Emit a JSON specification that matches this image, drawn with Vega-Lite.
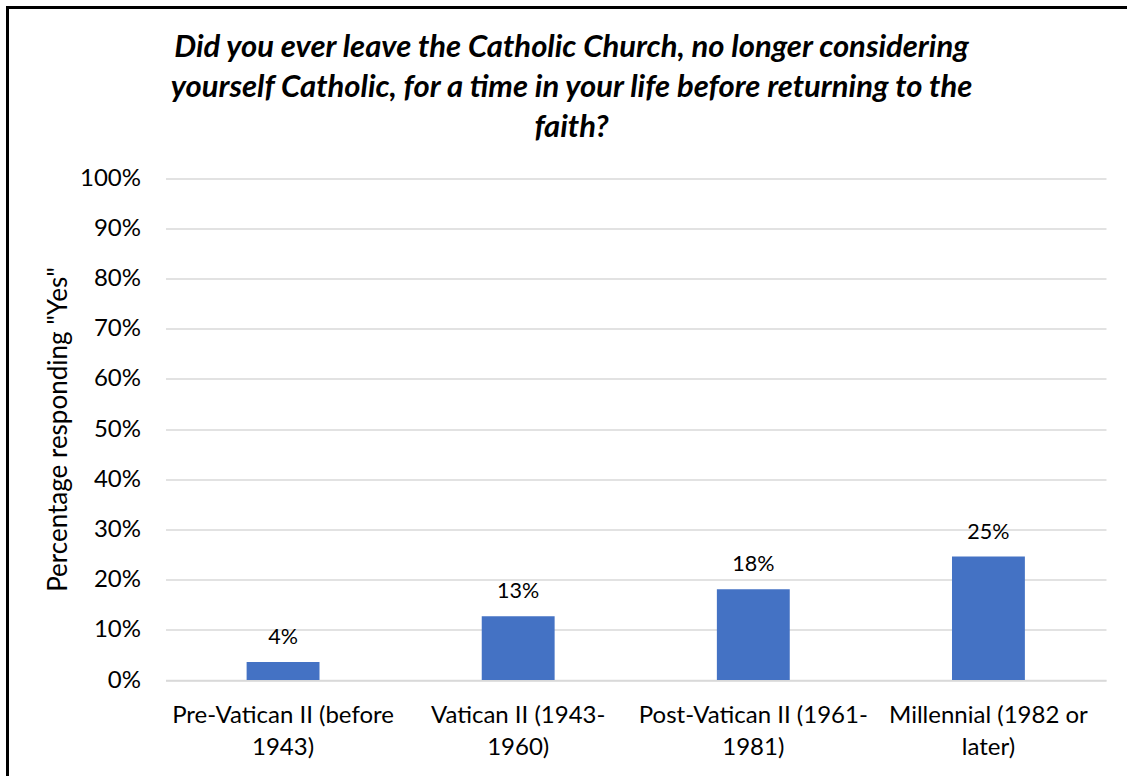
{
  "$schema": "https://vega.github.io/schema/vega-lite/v6.json",
  "autosize": "none",
  "padding": {"left": 7.5, "top": 7.5, "right": 0, "bottom": 0},
  "width": 1140,
  "height": 790,
  "background": "white",
  "view": {"stroke": "#000000", "strokeWidth": 3, "fill": "white"},
  "title": {
    "text": ["Did you ever leave the Catholic Church, no longer considering", "yourself Catholic, for a time in your life before returning to the", "faith?"],
    "font": "Lato",
    "fontSize": 31,
    "fontStyle": "italic",
    "fontWeight": "bold",
    "color": "#000000",
    "anchor": "middle",
    "frame": "group",
    "orient": "top",
    "offset": -136,
    "lineHeight": 40,
    "dx": -6
  },
  "data": {
    "values": [
      {"cohort": "Pre-Vatican II (before 1943)", "pct": 0.036},
      {"cohort": "Vatican II (1943-1960)", "pct": 0.127},
      {"cohort": "Post-Vatican II (1961-1981)", "pct": 0.181},
      {"cohort": "Millennial (1982 or later)", "pct": 0.246}
    ]
  },
  "encoding": {
    "x": {
      "field": "cohort",
      "type": "nominal",
      "sort": null,
      "scale": {"range": [158, 1098.5], "paddingInner": 0.69, "paddingOuter": 0.345},
      "axis": {
        "title": null,
        "labelAngle": 0,
        "labelFont": "Lato",
        "labelFontSize": 24,
        "labelColor": "#000000",
        "labelPadding": 23,
        "labelLineHeight": 32,
        "labelLimit": 0,
        "ticks": false,
        "domain": true,
        "domainColor": "#D9D9D9",
        "domainWidth": 1.5,
        "grid": false,
        "offset": -117.5,
        "labelExpr": "datum.label == 'Pre-Vatican II (before 1943)' ? ['Pre-Vatican II (before', '1943)'] : datum.label == 'Vatican II (1943-1960)' ? ['Vatican II (1943-', '1960)'] : datum.label == 'Post-Vatican II (1961-1981)' ? ['Post-Vatican II (1961-', '1981)'] : ['Millennial (1982 or', 'later)']"
      }
    },
    "y": {
      "field": "pct",
      "type": "quantitative",
      "scale": {"domain": [0, 1], "range": [672.5, 170.5], "nice": false},
      "axis": {
        "title": "Percentage responding \"Yes\"",
        "format": ".0%",
        "values": [0, 0.1, 0.2, 0.3, 0.4, 0.5, 0.6, 0.7, 0.8, 0.9, 1],
        "grid": true,
        "gridColor": "#D9D9D9",
        "gridWidth": 1.5,
        "domain": false,
        "ticks": false,
        "labelPadding": 25,
        "labelFont": "Lato",
        "labelFontSize": 24,
        "labelColor": "#000000",
        "titleFont": "Lato",
        "titleFontSize": 26,
        "titleFontWeight": "normal",
        "titleColor": "#000000",
        "titlePadding": 8,
        "offset": -158
      }
    }
  },
  "layer": [
    {"mark": {"type": "bar", "color": "#4472C4"}},
    {
      "mark": {"type": "text", "dy": -18, "baseline": "alphabetic", "font": "Lato", "fontSize": 21.5, "color": "#000000"},
      "encoding": {"text": {"field": "pct", "type": "quantitative", "format": ".0%"}}
    }
  ]
}
